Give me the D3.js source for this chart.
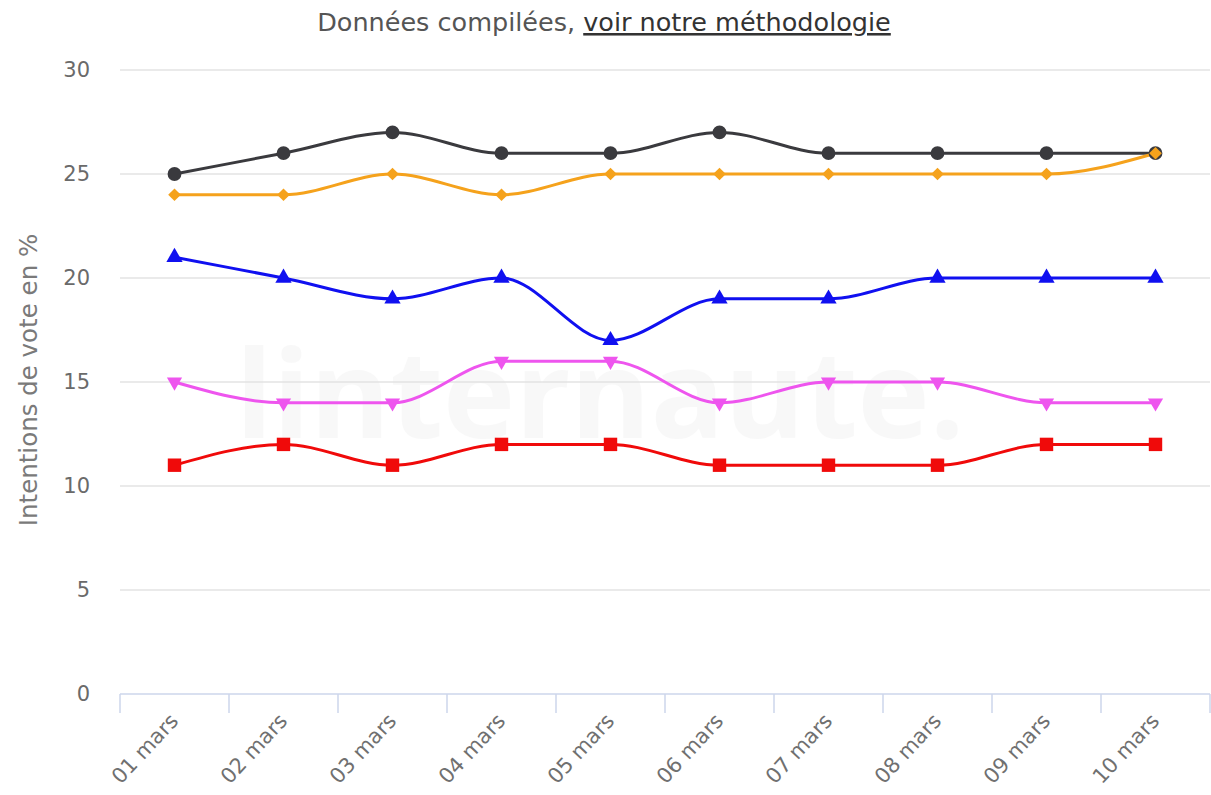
<!DOCTYPE html>
<html><head><meta charset="utf-8">
<script src="https://cdn.jsdelivr.net/npm/d3@7/dist/d3.min.js"></script>
<style>body{margin:0;background:#fff;}svg{display:block;font-family:"DejaVu Sans","Open Sans",sans-serif;}</style>
</head><body>
<svg id="c" width="1211" height="795"></svg>
<script>
const categories = ["01 mars","02 mars","03 mars","04 mars","05 mars","06 mars","07 mars","08 mars","09 mars","10 mars"];
const yTicks = [0,5,10,15,20,25,30];
const seriesBlack  = [25,26,27,26,26,27,26,26,26,26];
const seriesOrange = [24,24,25,24,25,25,25,25,25,26];
const seriesBlue   = [21,20,19,20,17,19,19,20,20,20];
const seriesPink   = [15,14,14,16,16,14,15,15,14,14];
const seriesRed    = [11,12,11,12,12,11,11,11,12,12];

const series = [
  {values: seriesRed, color:"#f00a0a", symbol:d3.symbolSquare, size:180, rot:0},
  {values: seriesPink, color:"#ee55ee", symbol:d3.symbolTriangle, size:100, rot:180},
  {values: seriesBlue, color:"#1010f0", symbol:d3.symbolTriangle, size:115, rot:0},
  {values: seriesBlack, color:"#3a3a3e", symbol:d3.symbolCircle, size:150, rot:0},
  {values: seriesOrange, color:"#f5a21c", symbol:d3.symbolSquare, size:80, rot:45}
];

const svg = d3.select("#c");
const mLeft = 120, mRight = 1210, mTop = 70, mBottom = 694;
const x = d3.scaleBand().domain(categories).range([mLeft,mRight]);
const y = d3.scaleLinear().domain([0,30]).range([mBottom,mTop]);

// watermark
svg.append("text").attr("x",600).attr("y",438).attr("text-anchor","middle")
  .attr("font-family","Open Sans").attr("font-size",122).attr("font-weight","bold")
  .attr("fill","#000").attr("opacity",0.025).text("linternaute.");

// gridlines
svg.append("g").selectAll("line").data(yTicks.filter(d=>d>0)).join("line")
  .attr("x1",mLeft).attr("x2",mRight).attr("y1",d=>y(d)).attr("y2",d=>y(d))
  .attr("stroke","#e3e3e3").attr("stroke-width",1.3);

// y labels
svg.append("g").selectAll("text").data(yTicks).join("text")
  .attr("x",90).attr("y",d=>y(d)+7).attr("text-anchor","end")
  .attr("font-size",21).attr("fill","#6a6a6a").text(d=>d);

// y axis title
svg.append("text").attr("transform","translate(37,380) rotate(-90)")
  .attr("text-anchor","middle").attr("font-size",24.5).attr("fill","#7a7a7a")
  .text("Intentions de vote en %");

// x axis
const gx = svg.append("g").attr("transform",`translate(0,${mBottom})`);
gx.append("line").attr("x1",mLeft).attr("x2",mRight).attr("stroke","#ccd6eb").attr("stroke-width",1.5);
const tickPos = categories.map(c=>x(c)).concat([mRight]);
gx.selectAll("line.t").data(tickPos).join("line").attr("class","t")
  .attr("x1",d=>d).attr("x2",d=>d).attr("y1",0).attr("y2",19).attr("stroke","#ccd6eb").attr("stroke-width",1.5);
gx.selectAll("text").data(categories).join("text")
  .attr("transform",d=>`translate(${x(d)+x.bandwidth()/2+5},${28}) rotate(-47)`)
  .attr("text-anchor","end").attr("font-size",21).attr("fill","#707070").text(d=>d);

// title
const title = svg.append("text").attr("x",604).attr("y",31).attr("text-anchor","middle")
  .attr("font-size",25.5).attr("fill","#555");
title.append("tspan").text("Données compilées, ");
title.append("tspan").attr("fill","#333").attr("text-decoration","underline").text("voir notre méthodologie");

// lines
const line = d3.line().x((d,i)=>x(categories[i])+x.bandwidth()/2).y(d=>y(d)).curve(d3.curveMonotoneX);
series.forEach(s=>{
  svg.append("path").datum(s.values).attr("d",line).attr("fill","none")
    .attr("stroke",s.color).attr("stroke-width",3);
});
series.forEach(s=>{
  svg.append("g").selectAll("path").data(s.values).join("path")
    .attr("d",d3.symbol().type(s.symbol).size(s.size))
    .attr("transform",(d,i)=>`translate(${x(categories[i])+x.bandwidth()/2},${y(d)}) rotate(${s.rot})`)
    .attr("fill",s.color);
});
</script>
</body></html>
